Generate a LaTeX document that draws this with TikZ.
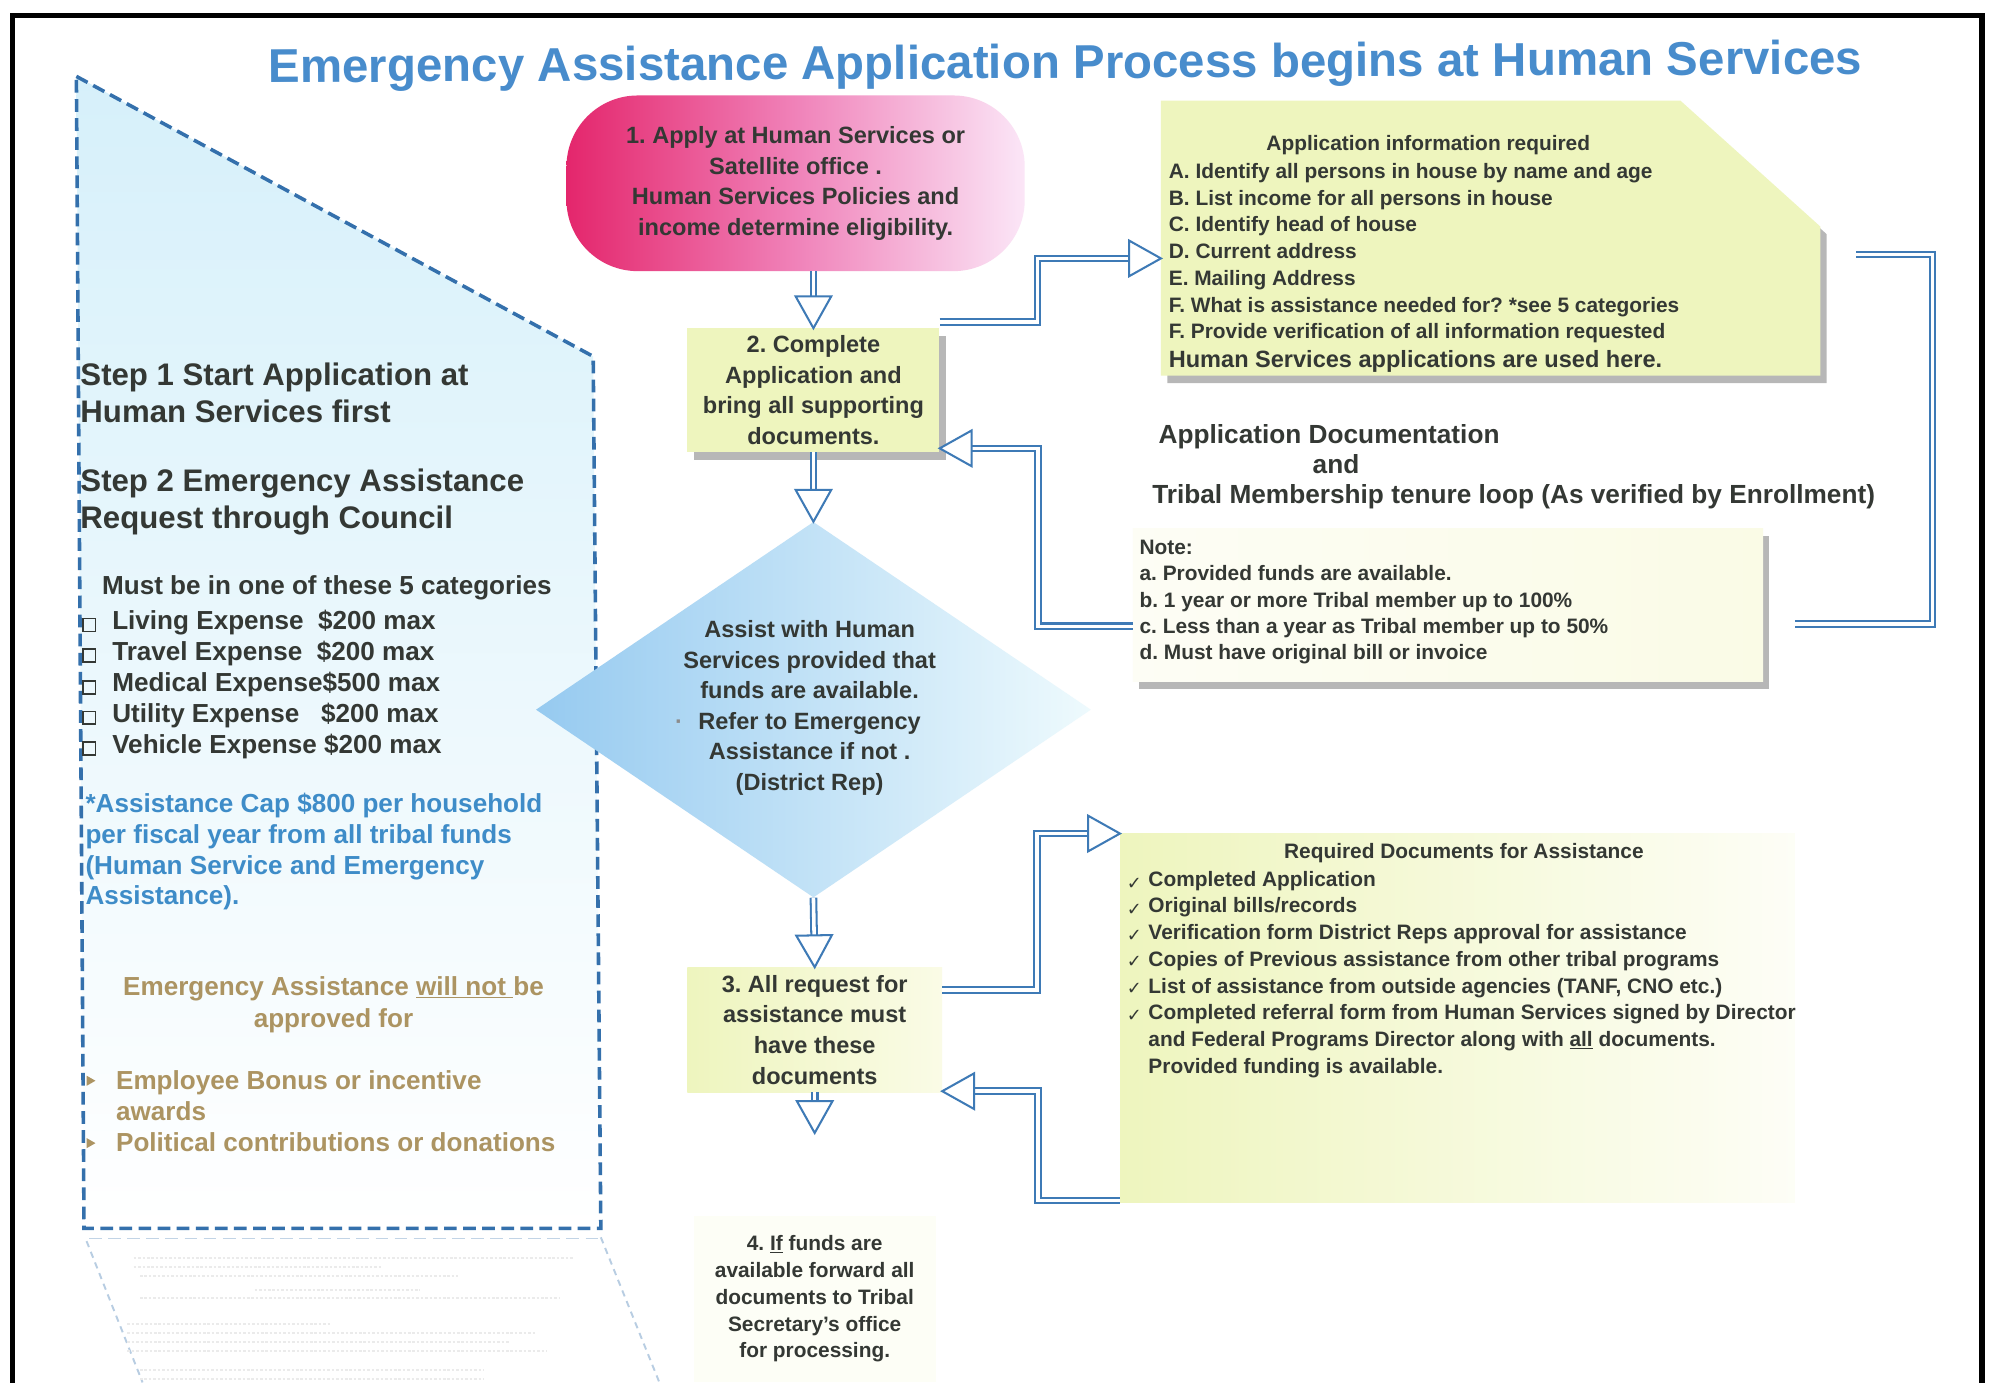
\documentclass[tikz,border=0pt]{standalone}
\usepackage{fontspec}
\setmainfont{Liberation Sans}
\newfontfamily\symfont{DejaVu Sans}
\usetikzlibrary{shapes.geometric,shadows,decorations.markings,calc}
\definecolor{ab}{RGB}{62,122,182}
\definecolor{dashc}{RGB}{52,112,172}
\definecolor{titc}{RGB}{72,140,204}
\definecolor{txt}{RGB}{52,56,52}
\definecolor{bluetxt}{RGB}{62,140,200}
\definecolor{browntxt}{RGB}{172,148,98}
\definecolor{yel}{RGB}{238,245,190}
\definecolor{yelpale}{RGB}{250,251,230}
\definecolor{pinkL}{RGB}{228,38,108}
\definecolor{pinkM}{RGB}{240,130,185}
\definecolor{pinkR}{RGB}{251,230,247}
\definecolor{diaL}{RGB}{150,202,240}
\definecolor{diaR}{RGB}{238,250,253}
\definecolor{panelTop}{RGB}{214,240,250}
\begin{document}
\frenchspacing
\begin{tikzpicture}[x=1pt,y=-1pt,
  flowline/.style={draw=ab, line width=1.6pt, double=white, double distance=2.8pt},
  flow/.style={flowline, shorten >=23pt,
    postaction={decorate, decoration={markings, mark=at position 1 with
      {\draw[solid, draw=ab, fill=white, line width=1.6pt, shorten >=0pt, shorten <=0pt]
        (0pt,0pt) -- (-25pt,14pt) -- (-25pt,-14pt) -- cycle;}}}},
  shad/.style={drop shadow={shadow xshift=5pt, shadow yshift=-6pt, opacity=.35, fill=black!80}},
  fT/.style={font=\fontsize{37.3}{40}\selectfont\bfseries},
  fStep/.style={font=\fontsize{24.5}{29}\selectfont\bfseries},
  fPanel/.style={font=\fontsize{20.5}{24.3}\selectfont\bfseries},
  fMid/.style={font=\fontsize{20.6}{23.5}\selectfont\bfseries},
  fBox/.style={font=\fontsize{18.5}{24}\selectfont\bfseries},
  fSmall/.style={font=\fontsize{16.4}{21}\selectfont\bfseries},
  tx/.style={inner sep=0pt, text=txt}]
\useasboundingbox (0,0) rectangle (1568,1086);
\fill[white] (0,0) rectangle (1568,1086);

% title
\node[fT, text=titc, rotate=0.3, inner sep=0pt] (title) at (837,52)
  {Emergency Assistance Application Process begins at Human Services};

% left panel
\shade[top color=panelTop, bottom color=white] (60,60) -- (466,280) -- (472,965) -- (66,965) -- cycle;
\draw[dashc, line width=2.8pt, dash pattern=on 10pt off 5pt] (60,60) -- (466,280) -- (472,965) -- (66,965) -- cycle;
% faint reflection
\draw[dashc!30, line width=1.4pt, dash pattern=on 10pt off 5pt] (70,973) -- (470,973);
\draw[dashc!35, line width=1.5pt, dash pattern=on 5pt off 4pt] (68,975) -- (112,1086);
\draw[dashc!35, line width=1.5pt, dash pattern=on 5pt off 4pt] (472,972) -- (518,1086);
\foreach \yy/\xa/\xb in {988/105/450, 995/105/300, 1002/110/360, 1013/200/330, 1020/110/440,
  1040/100/260, 1047/100/420, 1054/100/400, 1061/100/430, 1076/110/380, 1083/110/380}
  \draw[black!8, line width=1.6pt, dash pattern=on 2pt off 1.5pt] (\xa,\yy) -- (\xb,\yy);

\node[fStep, tx, anchor=west, align=left] (s1) at (63,308.5)
  {Step 1 Start Application at\\Human Services first};
\node[fStep, tx, anchor=west, align=left] (s2) at (63,394)
  {Step 2 Emergency Assistance\\Request through Council};
\node[fPanel, tx, anchor=west] (cat) at (80,462) {Must be in one of these 5 categories};
\node[fPanel, tx, anchor=west, align=left] (items) at (88,537.5)
  {Living Expense\ \ \$200 max\\Travel Expense\ \ \$200 max\\Medical Expense\$500 max\\Utility Expense\ \ \ \$200 max\\Vehicle Expense \$200 max};
\foreach \yy in {488,512,537,561,585}
  \draw[txt, line width=1.3pt] (65,\yy-2) rectangle (75,\yy+8);
\node[fPanel, inner sep=0pt, text=bluetxt, anchor=west, align=left] (capnote) at (67,669)
  {*Assistance Cap \$800 per household\\per fiscal year from all tribal funds\\(Human Service and Emergency\\Assistance).};
\node[fPanel, inner sep=0pt, text=browntxt, align=center, font=\fontsize{20.5}{25}\selectfont\bfseries] (notfor) at (262,789)
  {Emergency Assistance \underline{will not\ }be\\approved for};
\node[fPanel, inner sep=0pt, text=browntxt, anchor=west, align=left] (excl) at (91,873)
  {Employee Bonus or incentive\\awards\\Political contributions or donations};
\foreach \yy in {849,898}
  \fill[browntxt] (68,\yy-4) -- (75,\yy) -- (68,\yy+4) -- cycle;

% step 1 pink box
\node[rounded corners=56pt, left color=pinkL, right color=pinkR, middle color=pinkM,
  minimum width=360pt, minimum height=138pt, fBox, tx, align=center] (n1) at (625,144)
  {1. Apply at Human Services or\\Satellite office .\\Human Services Policies and\\income determine eligibility.};

% step 2 box
\node[fill=yel, shad, minimum width=198pt, minimum height=97pt, fBox, tx, align=center] (n2) at (639,306.5)
  {2. Complete\\Application and\\bring all supporting\\documents.};

% diamond
\node[diamond, minimum width=436pt, minimum height=295pt, inner sep=0pt,
  left color=diaL, right color=diaR] (n3) at (639,557.5) {};
\node[fBox, tx, align=center] (n3t) at (636,556)
  {Assist with Human\\Services provided that\\funds are available.\\\llap{\textcolor{black!45}{·}\hspace{12pt}}Refer to Emergency\\Assistance if not .\\(District Rep)};

% step 3 box
\node[left color=yel, right color=yelpale, minimum width=200pt, minimum height=98pt,
  fBox, tx, align=center] (n4) at (640,809)
  {3. All request for\\assistance must\\have these\\documents};

% step 4 box
\node[fill=yelpale!35!white, minimum width=190pt, minimum height=131pt, fSmall, tx, align=center] (n5) at (640,1020.5)
  {4. \underline{If} funds are\\available forward all\\documents to Tribal\\Secretary's office\\for processing.};

% application information box
\fill[yel, shad] (912,79) -- (1320,79) -- (1430,178) -- (1430,295) -- (912,295) -- cycle;
\coordinate (infoin) at (912,203);
\coordinate (infoout) at (1430,200);
\node[fSmall, tx] (infoh) at (1122,114) {Application information required};
\node[fSmall, tx, anchor=west, align=left] (infol) at (918,199)
  {A. Identify all persons in house by name and age\\B. List income for all persons in house\\C. Identify head of house\\D. Current address\\E. Mailing Address\\F. What is assistance needed for? *see 5 categories\\F. Provide verification of all information requested};
\node[fBox, tx, anchor=west] (infoz) at (918,284) {Human Services applications are used here.};

% documentation loop text
\node[fMid, tx, anchor=west, align=left] (appdoc) at (905,366.5)
  {\hspace*{5pt}Application Documentation\\\hspace*{126pt}and\\Tribal Membership tenure loop (As verified by Enrollment)};

% note box
\node[left color=white!60!yelpale, right color=yelpale, shad, minimum width=495pt, minimum height=120pt] (note) at (1137.5,475) {};
\node[fSmall, tx, anchor=west, align=left, font=\fontsize{16.4}{20.5}\selectfont\bfseries] (notet) at (895,473)
  {Note:\\a. Provided funds are available.\\b. 1 year or more Tribal member up to 100\%\\c. Less than a year as Tribal member up to 50\%\\d. Must have original bill or invoice};

% required documents box
\node[left color=yel, right color=white!65!yelpale, minimum width=530pt, minimum height=290pt] (req) at (1145,800) {};
\node[fSmall, tx] (reqh) at (1150,670) {Required Documents for Assistance};
\node[fSmall, tx, anchor=west, align=left] (reql) at (902,765.5)
  {Completed Application\\Original bills/records\\Verification form District Reps approval for assistance\\Copies of Previous assistance from other tribal programs\\List of assistance from outside agencies (TANF, CNO etc.)\\Completed referral form from Human Services signed by Director\\and Federal Programs Director along with \underline{all} documents.\\Provided funding is available.};
\foreach \yy in {692,713,733,754,775,796}
  \node[tx, font=\symfont\fontsize{14}{14}\selectfont] (chk\yy) at (891,\yy+2) {✓};

% connectors
\draw[flow] (n1.south -| n2.north) -- (n2.north);
\draw[flow] (n2.south) -- (n3.north);
\draw[flow] (n3.south) -- (n4.north);
\coordinate (n4end) at (640,890);
\draw[flow] (n4.south) -- (n4end);
\draw[flow] ($(n2.north east)+(0,-5)$) -| ($(infoin)+(-97,0)$) -- (infoin);
\draw[flow] ($(note.west)+(0,17)$) -| ($(n2.south east)+(77,-3)$) -- ($(n2.south east)+(0,-3)$);
\draw[flowline, shorten <=28pt, shorten >=25pt] (infoout) -| (1518,490) -- ($(note.east)+(0,15)$);
\draw[flow] ($(n4.north east)+(0,18)$) -| ($(req.north west)+(-65,0)$) -- (req.north west);
\draw[flow] ($(req.south west)+(0,-2)$) -| ($(n4.south east)+(75,-1)$) -- ($(n4.south east)+(0,-1)$);

% frame
\draw[black, line width=4pt] (10,1100) -- (10,12) -- (1557,12) -- (1557,1100);
\end{tikzpicture}
\end{document}
